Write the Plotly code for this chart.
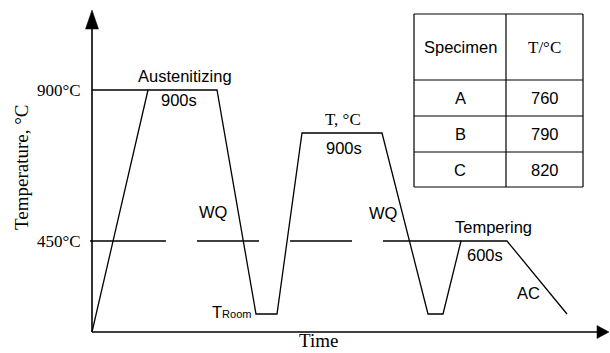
import plotly.graph_objects as go

# Schematic heat-treatment cycle (time units / schematic temperature levels)
time_nodes = [0, 56, 125, 164, 185, 210, 290, 336, 351, 369, 415, 475]
temp_levels = [0, 242, 242, 18, 18, 199, 199, 18, 18, 91, 91, 18]

level_900 = 242
level_450 = 91
ref900_span = [0, 56]
dash450_segments = [(-2, 74), (105, 167), (198, 260), (291, 369)]

tick_labels = ["900°C", "450°C"]
tick_levels = [level_900, level_450]

specimens = ["A", "B", "C"]
temps_T = ["760", "790", "820"]
table_header = ["Specimen", "T/°C"]

SANS = "Arial, Liberation Sans, sans-serif"
SERIF = "Times New Roman, Liberation Serif, serif"
BLACK = "#000000"
LW = 1.3

fig = go.Figure()

# main profile
fig.add_trace(go.Scatter(x=time_nodes, y=temp_levels, mode="lines",
                         line=dict(color=BLACK, width=LW), hoverinfo="skip"))
# 900 reference from axis
fig.add_trace(go.Scatter(x=ref900_span, y=[level_900, level_900], mode="lines",
                         line=dict(color=BLACK, width=LW), hoverinfo="skip"))
# 450 dashed reference
dx, dy = [], []
for a, b in dash450_segments:
    dx += [a, b, None]
    dy += [level_450, level_450, None]
fig.add_trace(go.Scatter(x=dx, y=dy, mode="lines",
                         line=dict(color=BLACK, width=LW), hoverinfo="skip"))

shapes = []
# axes
shapes.append(dict(type="line", x0=0, y0=0, x1=0, y1=305, line=dict(color=BLACK, width=1.6)))
shapes.append(dict(type="line", x0=0, y0=0, x1=507, y1=0, line=dict(color=BLACK, width=1.6)))
# arrowheads
shapes.append(dict(type="path", path="M 0 322 L -6.5 303 L 6.5 303 Z",
                   fillcolor=BLACK, line=dict(color=BLACK, width=0.5)))
shapes.append(dict(type="path", path="M 517 0 L 505 6.5 L 505 -6.5 Z",
                   fillcolor=BLACK, line=dict(color=BLACK, width=0.5)))

# table
tx = [322, 414, 491]
ty = [318, 252, 216, 180, 145]
for yv in ty:
    shapes.append(dict(type="line", x0=tx[0], x1=tx[2], y0=yv, y1=yv, line=dict(color=BLACK, width=1.2)))
for xv in tx:
    shapes.append(dict(type="line", x0=xv, x1=xv, y0=ty[0], y1=ty[-1], line=dict(color=BLACK, width=1.2)))

annotations = []

def ann(text, x, y, font, size=17, xanchor="center", yanchor="middle"):
    annotations.append(dict(text=text, x=x, y=y, xref="x", yref="y", showarrow=False,
                            xanchor=xanchor, yanchor=yanchor,
                            font=dict(family=font, size=size, color=BLACK)))

for lab, lv in zip(tick_labels, tick_levels):
    ann(lab, -9, lv, SERIF, 17, xanchor="right")

ann(table_header[0], (tx[0] + tx[1]) / 2, (ty[0] + ty[1]) / 2, SANS, 16.5)
ann(table_header[1], (tx[1] + tx[2]) / 2, (ty[0] + ty[1]) / 2, SERIF, 17)
for i, (s, t) in enumerate(zip(specimens, temps_T)):
    yc = (ty[i + 1] + ty[i + 2]) / 2
    ann(s, (tx[0] + tx[1]) / 2, yc, SANS, 16.5)
    ann(t, (tx[1] + tx[2]) / 2, yc, SANS, 16.5)

ann("Austenitizing", 93, 256, SANS, 16.5)
ann("900s", 87, 232, SANS, 16.5)
ann("T, °C", 251, 213, SERIF, 17)
ann("900s", 252, 184, SANS, 16.5)
ann("WQ", 121, 120, SANS, 16.5)
ann("WQ", 291, 119, SANS, 16.5)
ann("T<span style='font-size:11px'>Room</span>", 161, 20, SANS, 16.5, xanchor="right")
ann("Tempering", 401, 105, SANS, 16.5)
ann("600s", 393, 77, SANS, 16.5)
ann("AC", 436, 39, SANS, 16.5)
ann("Time", 226, -21, SERIF, 19, yanchor="bottom")

annotations.append(dict(text="Temperature, °C", x=-71, y=165, xref="x", yref="y",
                        showarrow=False, textangle=-90, xanchor="center", yanchor="middle",
                        font=dict(family=SERIF, size=19, color=BLACK)))

fig.update_layout(
    width=610, height=353,
    margin=dict(l=0, r=0, t=0, b=0),
    paper_bgcolor="white", plot_bgcolor="white",
    showlegend=False,
    shapes=shapes, annotations=annotations,
    xaxis=dict(range=[-92, 518], visible=False, fixedrange=True),
    yaxis=dict(range=[-21, 332], visible=False, fixedrange=True),
)

fig.write_html("out.html")
